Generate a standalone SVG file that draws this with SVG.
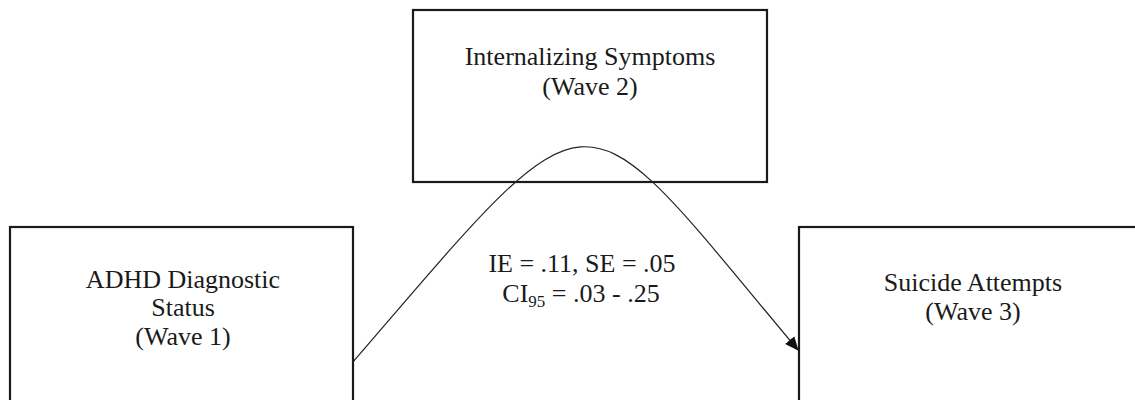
<svg xmlns="http://www.w3.org/2000/svg" width="1135" height="400" viewBox="0 0 1135 400">
<style>
.box{fill:#fff;stroke:#1a1a1a;stroke-width:2.2}
.t{font-family:"Liberation Serif","Times New Roman",serif;font-size:26px;fill:#1a1a1a;text-anchor:middle}
.sub{font-size:17px}
.edge{fill:none;stroke:#222;stroke-width:1.2}
</style>
<defs>
<marker id="arr" markerWidth="14" markerHeight="12" refX="13" refY="6" orient="auto" markerUnits="userSpaceOnUse">
<path d="M0,0 L14,6 L0,12 Z" fill="#111"/>
</marker>
</defs>
<rect width="1135" height="400" fill="#fff"/>
<g id="node-internalizing">
<rect class="box" x="413" y="10" width="354" height="172"/>
<text class="t" x="590" y="65">Internalizing Symptoms</text>
<text class="t" x="590" y="95">(Wave 2)</text>
</g>
<g id="node-adhd">
<rect class="box" x="10" y="227" width="343" height="190"/>
<text class="t" x="183" y="288">ADHD Diagnostic</text>
<text class="t" x="183" y="316">Status</text>
<text class="t" x="183" y="345">(Wave 1)</text>
</g>
<g id="node-suicide">
<rect class="box" x="799" y="227" width="350" height="190"/>
<text class="t" x="973" y="291">Suicide Attempts</text>
<text class="t" x="973" y="320">(Wave 3)</text>
</g>
<g id="connectors">
<path class="edge" d="M353,362 C603,72 573,82 798,350" marker-end="url(#arr)"/>
</g>
<g id="label">
<text class="t" x="582" y="272">IE = .11, SE = .05</text>
<text class="t" x="581" y="302">CI<tspan class="sub" dy="5">95</tspan><tspan dy="-5"> = .03 - .25</tspan></text>
</g>
</svg>
